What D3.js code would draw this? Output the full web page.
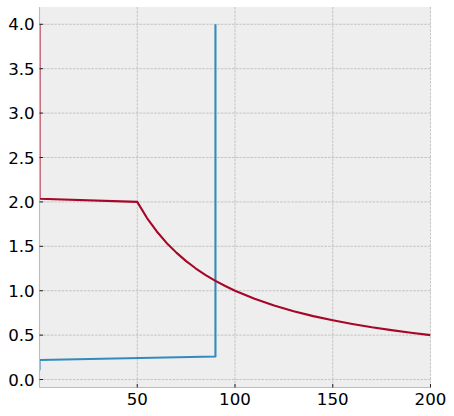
<!DOCTYPE html>
<html><head><meta charset="utf-8">
<script src="https://cdn.jsdelivr.net/npm/d3@7"></script>
<style>body{margin:0;background:#fff}svg{display:block}</style>
</head><body>
<svg id="c" width="454" height="416"></svg>
<script>
const xTicks = [50, 100, 150, 200];
const yTicks = [0, 0.5, 1.0, 1.5, 2.0, 2.5, 3.0, 3.5, 4.0];

const blueX = [0, 0, 90, 90];
const blueY = [0.105, 0.22, 0.26, 4.0];

const redX = [0, 0, 50, 55, 60, 65, 70, 75, 80, 85, 90, 95, 100, 110, 120, 130, 140, 150, 160, 170, 180, 190, 200];
const redY = [4.0, 2.035, 2.0, 1.818, 1.667, 1.538, 1.429, 1.333, 1.25, 1.176, 1.111, 1.053, 1.0, 0.909, 0.833, 0.769, 0.714, 0.667, 0.625, 0.588, 0.556, 0.526, 0.5];

const W = 454, H = 416;
const m = {l: 39.5, r: 430.5, t: 7, b: 387.5};
const svg = d3.select("#c");

const allY = blueY.concat(redY);
const lo = d3.min(allY), hi = d3.max(allY), pad = (hi - lo) * 0.05;
const x = d3.scaleLinear().domain([0, 200]).range([m.l, m.r]);
const y = d3.scaleLinear().domain([lo - pad, hi + pad]).range([m.b, m.t]);

svg.append("defs").append("clipPath").attr("id", "clip")
  .append("rect").attr("x", m.l).attr("y", m.t).attr("width", m.r - m.l).attr("height", m.b - m.t);

svg.append("rect").attr("x", m.l).attr("y", m.t).attr("width", m.r - m.l).attr("height", m.b - m.t).attr("fill", "#eeeeee");

const g = svg.append("g");
g.selectAll(".gx").data(xTicks).join("line")
  .attr("x1", d => x(d)).attr("x2", d => x(d)).attr("y1", m.t).attr("y2", m.b)
  .attr("stroke", "#b2b2b2").attr("stroke-width", 0.7).attr("stroke-dasharray", "2.6,1.1");
g.selectAll(".gy").data(yTicks).join("line")
  .attr("y1", d => y(d)).attr("y2", d => y(d)).attr("x1", m.l).attr("x2", m.r)
  .attr("stroke", "#b2b2b2").attr("stroke-width", 0.7).attr("stroke-dasharray", "2.6,1.1");

const line = d3.line().x(d => x(d[0])).y(d => y(d[1]));
const blue = blueX.map((v, i) => [v, blueY[i]]);
const red = redX.map((v, i) => [v, redY[i]]);
const lines = svg.append("g").attr("clip-path", "url(#clip)");
lines.append("path").attr("d", line(blue)).attr("fill", "none").attr("stroke", "#348ABD").attr("stroke-width", 2.1).attr("stroke-linejoin", "round");
lines.append("path").attr("d", line(red)).attr("fill", "none").attr("stroke", "#A60628").attr("stroke-width", 2.1).attr("stroke-linejoin", "round");

// spines
svg.append("line").attr("x1", m.l).attr("x2", m.l).attr("y1", m.t).attr("y2", m.b).attr("stroke", "#bcbcbc").attr("stroke-width", 1.1);
svg.append("line").attr("x1", m.l).attr("x2", m.r).attr("y1", m.b).attr("y2", m.b).attr("stroke", "#bcbcbc").attr("stroke-width", 1.1);

// ticks (inward)
svg.selectAll(".tx").data(xTicks).join("line")
  .attr("x1", d => x(d)).attr("x2", d => x(d)).attr("y1", m.b).attr("y2", m.b - 3.5)
  .attr("stroke", "#222").attr("stroke-width", 1);
svg.selectAll(".ty").data(yTicks).join("line")
  .attr("y1", d => y(d)).attr("y2", d => y(d)).attr("x1", m.l).attr("x2", m.l + 3.5)
  .attr("stroke", "#222").attr("stroke-width", 1);

const font = "'DejaVu Sans', sans-serif";
svg.selectAll(".lx").data(xTicks).join("text")
  .attr("x", d => x(d)).attr("y", 405.3).attr("text-anchor", "middle")
  .attr("font-family", font).attr("font-size", 16.67).attr("fill", "#000")
  .text(d => d3.format("d")(d));
svg.selectAll(".ly").data(yTicks).join("text")
  .attr("x", 34.7).attr("y", d => y(d)).attr("dy", "0.36em").attr("text-anchor", "end")
  .attr("font-family", font).attr("font-size", 16.67).attr("fill", "#000")
  .text(d => d3.format(".1f")(d));
</script>
</body></html>
